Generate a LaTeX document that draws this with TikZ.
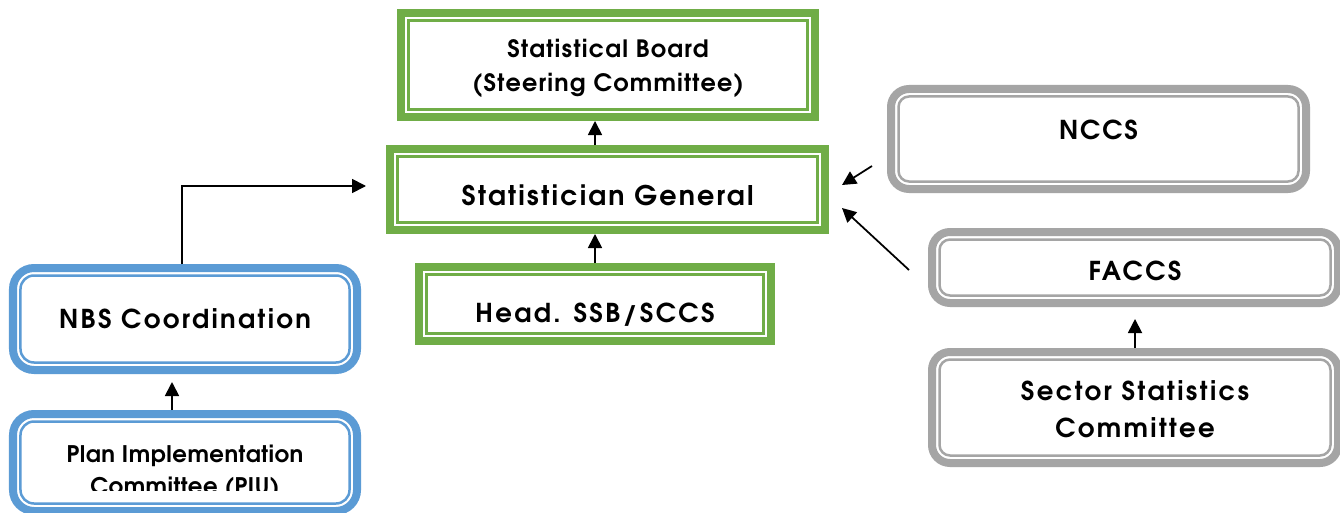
\documentclass[tikz,border=0pt]{standalone}
\usepackage{fontspec}
\setmainfont{texgyreadventor}[Extension=.otf, UprightFont=*-regular,
  BoldFont=*-bold, ItalicFont=*-italic, BoldItalicFont=*-bolditalic]
\usetikzlibrary{arrows.meta}
\definecolor{board}{HTML}{70AD47}
\definecolor{office}{HTML}{5B9BD5}
\definecolor{sector}{HTML}{A5A5A5}

\begin{document}
\begin{tikzpicture}[every node/.style={align=center, inner sep=0pt},
    greenbox/.style={draw=board, fill=white, line width=0.16cm,
      path picture={\draw[board, line width=0.05cm]
        ([shift={(0.15,-0.15)}]path picture bounding box.north west) rectangle
        ([shift={(-0.15,0.15)}]path picture bounding box.south east);}},
    bluebox/.style={draw=office, fill=white, line width=0.16cm, rounded corners=0.42cm,
      path picture={\draw[office, line width=0.05cm, rounded corners=0.27cm]
        ([shift={(0.15,-0.15)}]path picture bounding box.north west) rectangle
        ([shift={(-0.15,0.15)}]path picture bounding box.south east);}},
    greybox/.style={draw=sector, fill=white, line width=0.16cm, rounded corners=0.36cm,
      path picture={\draw[sector, line width=0.05cm, rounded corners=0.21cm]
        ([shift={(0.15,-0.15)}]path picture bounding box.north west) rectangle
        ([shift={(-0.15,0.15)}]path picture bounding box.south east);}},
    plain/.style={font=\fontsize{13.6}{19.9}\selectfont\bfseries\addfontfeatures{LetterSpace=5}},
    spaced/.style={font=\fontsize{14.8}{21}\selectfont\bfseries\addfontfeatures{LetterSpace=9}},
    arr/.style={-{Triangle[length=0.28cm, width=0.28cm]}, line width=0.035cm}]
  \useasboundingbox[fill=white] (0,0) rectangle (26.8,10.24);
  \clip (0,0) rectangle (26.8,10.24);

  % middle column
  \node[greenbox, plain, minimum width=8.28cm, minimum height=2.08cm,
    text height=1.08cm, text depth=0pt]
    (sb) at (12.16,8.94) {Statistical Board\\(Steering Committee)};
  \node[greenbox, font=\fontsize{15.4}{20}\selectfont\bfseries\addfontfeatures{LetterSpace=8},
    minimum width=8.70cm, minimum height=1.62cm, text height=0.64cm, text depth=0pt]
    (sg) at (12.15,6.45) {Statistician General};
  \node[greenbox, spaced, minimum width=7.04cm, minimum height=1.48cm,
    text height=0.74cm, text depth=0pt]
    (hd) at (11.90,4.16) {Head. SSB/SCCS};

  % left column
  \node[bluebox, spaced, minimum width=6.88cm, minimum height=2.04cm,
    text height=0.38cm, text depth=0pt]
    (nbs) at (3.70,3.86) {NBS Coordination};
  \node[bluebox, minimum width=6.88cm, minimum height=1.94cm] (piu) at (3.70,0.99) {};
  \begin{scope}
    \clip (0,0.44) rectangle (7.4,2.3);
    \node[font=\fontsize{13}{18.2}\selectfont\bfseries\addfontfeatures{LetterSpace=2},
      text height=0pt, text depth=0pt]
      (piutext) at (3.70,0.36) {Plan Implementation\\Committee (PIU)};
  \end{scope}

  % right column
  \node[greybox, spaced, font=\fontsize{14.8}{21}\selectfont\bfseries\addfontfeatures{LetterSpace=7},
    minimum width=8.30cm, minimum height=2.00cm, text height=0.02cm, text depth=0pt]
    (nccs) at (21.97,7.46) {NCCS};
  \node[greybox, spaced, minimum width=8.12cm, minimum height=1.42cm,
    text height=0.52cm, text depth=0pt]
    (faccs) at (22.70,4.89) {FACCS};
  \node[greybox, spaced, minimum width=8.12cm, minimum height=2.22cm,
    text height=1.18cm, text depth=0pt]
    (sec) at (22.70,2.09) {Sector Statistics\\Committee};

  % connectors
  \draw[arr] (hd.north |- sg.north) -- (hd.north |- sb.south);
  \draw[arr] (hd.north) -- (hd.north |- sg.south);
  \draw[arr] ([xshift=-0.06cm]nbs.north) |- ([xshift=-0.4cm, yshift=0.07cm]sg.west);
  \draw[arr] ([xshift=-0.26cm]piu.north) -- ([xshift=-0.26cm, yshift=-0.16cm]nbs.south);
  \draw[arr] ([shift={(-0.30,-0.54)}]nccs.west) -- ([shift={(0.26,0.09)}]sg.east);
  \draw[arr] ([shift={(-0.38,-0.05)}]faccs.west) -- ([shift={(0.26,-0.37)}]sg.east);
  \draw[arr] (sec.north) -- ([yshift=-0.24cm]faccs.south);
\end{tikzpicture}
\end{document}
